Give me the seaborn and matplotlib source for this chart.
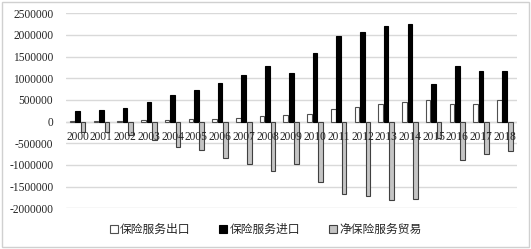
import matplotlib
matplotlib.use("Agg")
import matplotlib.pyplot as plt
import seaborn as sns
import pandas as pd
from matplotlib.patches import Patch, Rectangle

years = [str(y) for y in range(2000, 2019)]
exports = [10800, 22700, 20900, 31300, 38100, 54900, 54800, 90400, 138300, 159600,
           172700, 301800, 332900, 399600, 457200, 497700, 409700, 404700, 492300]
imports = [247100, 271100, 324600, 456400, 612400, 720000, 883100, 1066400, 1274300, 1130900,
           1575500, 1973700, 2060000, 2209000, 2245000, 880000, 1290000, 1160000, 1165000]
net = [-236300, -248400, -303700, -425100, -574300, -665100, -828300, -976000, -1136000, -971300,
       -1402800, -1671900, -1727100, -1809400, -1787800, -382300, -880300, -755300, -672700]
series = ["保险服务出口", "保险服务进口", "净保险服务贸易"]
yticks = [-2000000, -1500000, -1000000, -500000, 0, 500000, 1000000, 1500000, 2000000, 2500000]

df = pd.DataFrame({
    "year": years * 3,
    "value": exports + imports + net,
    "series": [series[0]] * len(years) + [series[1]] * len(years) + [series[2]] * len(years),
})

sns.set_style("white")
plt.rcParams["font.family"] = ["Liberation Serif", "Noto Sans CJK SC"]

fig = plt.figure(figsize=(5.31, 2.49), dpi=100)
ax = fig.add_axes([0.124, 0.1635, 0.849, 0.783])

faces = ["white", "black", "#c4c4c4"]
edges = ["#505050", "black", "#404040"]
sns.barplot(data=df, x="year", y="value", hue="series", hue_order=series,
            palette=faces, width=0.69, gap=0.15, dodge=True, legend=False, ax=ax, zorder=3)
for cont, fc, ec in zip(ax.containers, faces, edges):
    for p in cont:
        p.set_facecolor(fc)
        p.set_edgecolor(ec)
        p.set_linewidth(0.8)

ax.set_ylim(-2000000, 2500000)
ax.set_xlim(-0.5, len(years) - 0.5)
ax.set_yticks(yticks)
ax.set_yticklabels([str(v) for v in yticks], fontsize=8.3)
ax.yaxis.grid(True, color="#d9d9d9", linewidth=1.0, zorder=0)
ax.set_axisbelow(True)
for s in ax.spines.values():
    s.set_visible(False)
ax.tick_params(axis="y", length=0, pad=9)
ax.set_xlabel("")
ax.set_ylabel("")
ax.set_xticks([])
ax.axhline(0, color="#d9d9d9", linewidth=1.0, zorder=1)

for i, y in enumerate(years):
    ax.text(i, -360000, y, ha="center", va="center", fontsize=8.3, zorder=5)

handles = [Patch(facecolor=fc, edgecolor=ec, linewidth=0.8) for fc, ec in zip(faces, edges)]
fig.legend(handles, series, loc="center", bbox_to_anchor=(0.5, 0.075), ncol=3, frameon=False,
           fontsize=8.5, handlelength=0.7, handleheight=0.7, handletextpad=0.2, columnspacing=2.4)

fig.patches.append(Rectangle((0.004, 0.008), 0.992, 0.984, transform=fig.transFigure,
                             fill=False, edgecolor="#d0d0d0", linewidth=1.0))

fig.savefig("out.png", dpi=100)
